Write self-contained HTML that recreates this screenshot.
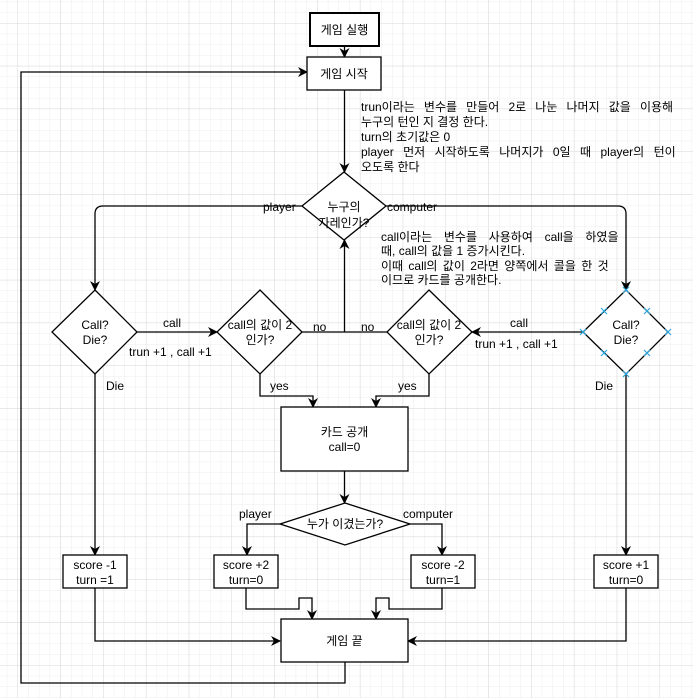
<!DOCTYPE html>
<html><head><meta charset="utf-8"><style>
html,body{margin:0;padding:0;background:#fff}
svg{display:block}
text{font-family:"Liberation Sans","Noto Sans CJK KR",sans-serif;font-size:12px;fill:#000}
</style></head><body>
<svg width="693" height="698" viewBox="0 0 693 698" xmlns="http://www.w3.org/2000/svg">
<defs>
<pattern id="minor" width="10.7" height="10.7" patternUnits="userSpaceOnUse" x="17.5" y="23">
<path d="M0 0H10.7M0 0V10.7" stroke="#ededed" stroke-width="1" fill="none"/>
</pattern>
<pattern id="major" width="42.8" height="42.8" patternUnits="userSpaceOnUse" x="17.5" y="23">
<path d="M0 0H42.8M0 0V42.8" stroke="#d9d9d9" stroke-width="1" fill="none"/>
</pattern>
<marker id="a" markerWidth="10" markerHeight="10" refX="9" refY="5" orient="auto" markerUnits="userSpaceOnUse">
<path d="M0,0 L10,5 L0,10 L3,5 Z" fill="#000"/>
</marker>
</defs>
<rect width="693" height="698" fill="url(#minor)"/>
<rect width="693" height="698" fill="url(#major)"/>

<g stroke="#000" stroke-width="1.3" fill="none">
<path d="M344.5 46V57" marker-end="url(#a)"/>
<path d="M344.5 90V172" marker-end="url(#a)"/>
<path d="M302 206H103Q95 206 95 214V290" marker-end="url(#a)"/>
<path d="M386 206H618Q626 206 626 214V290" marker-end="url(#a)"/>
<path d="M137 332H217" marker-end="url(#a)"/>
<path d="M583 332H472" marker-end="url(#a)"/>
<path d="M302 332H387"/>
<path d="M344.5 332V240" marker-end="url(#a)"/>
<path d="M260 374V396H313V407" marker-end="url(#a)"/>
<path d="M429 374V396H376V407" marker-end="url(#a)"/>
<path d="M344.5 471V503" marker-end="url(#a)"/>
<path d="M280 524H247V555" marker-end="url(#a)"/>
<path d="M410 524H442V555" marker-end="url(#a)"/>
<path d="M95 374V555" marker-end="url(#a)"/>
<path d="M626 374V555" marker-end="url(#a)"/>
<path d="M246 588V609H299V598H312V619" marker-end="url(#a)"/>
<path d="M442 588V609H389V598H376V619" marker-end="url(#a)"/>
<path d="M95 588V641H280" marker-end="url(#a)"/>
<path d="M626 588V641H408" marker-end="url(#a)"/>
<path d="M345 662V683H21V72H307" marker-end="url(#a)"/>
</g>

<g stroke="#000" stroke-width="1.3" fill="#fff">
<rect x="310" y="13" width="69" height="33" stroke-width="2"/>
<rect x="307" y="57" width="74" height="33"/>
<polygon points="344,172 386,206 344,240 302,206"/>
<polygon points="95,290 137,332 95,374 52,332"/>
<polygon points="260,290 302,332 260,374 217,332"/>
<polygon points="429,290 472,332 429,374 387,332"/>
<polygon points="626,290 668,332 626,374 583,332"/>
<rect x="281" y="407" width="127" height="64"/>
<polygon points="345,503 410,524 345,545 280,524"/>
<rect x="63" y="555" width="64" height="33"/>
<rect x="214" y="555" width="64" height="33"/>
<rect x="411" y="555" width="64" height="33"/>
<rect x="594" y="555" width="64" height="33"/>
<rect x="281" y="619" width="127" height="43"/>
</g>

<g stroke="#29a8e0" stroke-width="1.2">
<path d="M623 287l6 6M629 287l-6 6"/>
<path d="M623 371l6 6M629 371l-6 6"/>
<path d="M580 329l6 6M586 329l-6 6"/>
<path d="M665 329l6 6M671 329l-6 6"/>
<path d="M601 308l6 6M607 308l-6 6"/>
<path d="M644 308l6 6M650 308l-6 6"/>
<path d="M601 350l6 6M607 350l-6 6"/>
<path d="M644 350l6 6M650 350l-6 6"/>
</g>

<g text-anchor="middle">
<text x="344.5" y="34">게임 실행</text>
<text x="344" y="78">게임 시작</text>
<text x="344" y="211">누구의</text>
<text x="344" y="227">자레인가?</text>
<text x="95" y="329">Call?</text>
<text x="95" y="344">Die?</text>
<text x="260" y="329">call의 값이 2</text>
<text x="260" y="344">인가?</text>
<text x="429" y="329">call의 값이 2</text>
<text x="429" y="344">인가?</text>
<text x="626" y="329">Call?</text>
<text x="626" y="344">Die?</text>
<text x="344.5" y="436">카드 공개</text>
<text x="344.5" y="451">call=0</text>
<text x="345" y="528">누가 이겼는가?</text>
<text x="95" y="569">score -1</text>
<text x="95" y="584">turn =1</text>
<text x="246" y="569">score +2</text>
<text x="246" y="584">turn=0</text>
<text x="443" y="569">score -2</text>
<text x="443" y="584">turn=1</text>
<text x="626" y="569">score +1</text>
<text x="626" y="584">turn=0</text>
<text x="344.5" y="645">게임 끝</text>
</g>

<text x="263" y="211">player</text>
<text x="387" y="211">computer</text>
<text x="163" y="327">call</text>
<text x="129" y="356">trun +1 , call +1</text>
<text x="510" y="327">call</text>
<text x="475" y="348">trun +1 , call +1</text>
<text x="313" y="331">no</text>
<text x="361" y="331">no</text>
<text x="106" y="390">Die</text>
<text x="595" y="390">Die</text>
<text x="270" y="390">yes</text>
<text x="398" y="390">yes</text>
<text x="239" y="518">player</text>
<text x="403" y="518">computer</text>

<text x="361" y="111" word-spacing="5.8">trun이라는 변수를 만들어 2로 나눈 나머지 값을 이용해</text>
<text x="361" y="126">누구의 턴인 지 결정 한다.</text>
<text x="361" y="141">turn의 초기값은 0</text>
<text x="361" y="156" word-spacing="6.1">player 먼저 시작하도록 나머지가 0일 때 player의 턴이</text>
<text x="361" y="171">오도록 한다</text>

<text x="381" y="241" word-spacing="8.4">call이라는 변수를 사용하여 call을 하였을</text>
<text x="381" y="255">때, call의 값을 1 증가시킨다.</text>
<text x="381" y="270" word-spacing="2">이때 call의 값이 2라면 양쪽에서 콜을 한 것</text>
<text x="381" y="284">이므로 카드를 공개한다.</text>
</svg>
</body></html>
